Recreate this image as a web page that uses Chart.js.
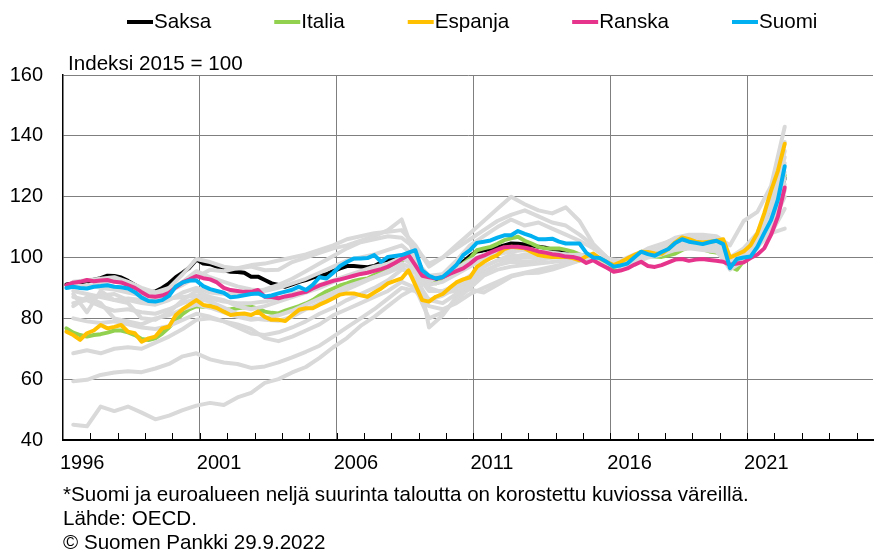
<!DOCTYPE html>
<html>
<head>
<meta charset="utf-8">
<script src="https://cdn.jsdelivr.net/npm/chart.js@4"></script>
<style>
  body { margin: 0; background: #fff; }
  canvas { display: block; }
</style>
</head>
<body>
<canvas id="chart" width="874" height="549"></canvas>
<script>
'use strict';

// quarterly data 1996Q1 - 2022Q2, index 2015 = 100
const saksa = [
  91.1, 91.5, 91.5, 92, 92.7, 93.2, 94, 93.9, 93.4, 92.3,
  91, 89.6, 88.5, 88.8, 90, 91.5, 93.5, 95, 96.7, 99.3,
  98, 97.8, 97, 95.8, 95.3, 95.2, 95, 93.7, 93.7, 92.6,
  91.5, 91, 90.4, 91.2, 92, 92.6, 93.4, 94, 94.5, 95.5,
  96.4, 97.2, 97.2, 97, 96.8, 97.2, 98.3, 99.2, 100, 100.5,
  101, 100.8, 95.8, 93.6, 92.8, 93.4, 94.5, 96.5, 98.6, 100.5,
  102, 102.3, 102.8, 103.3, 104, 104.6, 104.5, 104.3, 104, 103.5,
  103.2, 102.6, 102.2, 101.8, 101.4, 100.8, 100.4, 100.2, 99.6, 98.8,
  98, 98.2, 98.8, 100, 101.3, 101.2, 101.2, 101.5, 102.4, 103.5,
  104.5, 104.5, 104.3, 104, 103.8, 103.5, 103.2, 98.8, 99.5, 101,
  104, 107, 111, 116, 120.5, 126
];
const italia = [
  76.7, 75.3, 74.5, 74, 74.5, 74.8, 75.3, 76, 76, 75.4,
  74.5, 73.2, 72.9, 73.4, 75, 77, 79.3, 81.5, 83, 84,
  83.8, 84.2, 84, 82.8, 83, 83.3, 83.6, 83.8, 83.2, 82.2,
  81.8, 81.6, 82.5, 83.3, 84, 84.9, 86, 87.5, 88.8, 89.8,
  90.8, 91.5, 92.3, 92.8, 93.1, 94.2, 95.3, 96.3, 97.5, 98.8,
  100.2, 96, 93, 92.5, 91.5, 92.5, 94.5, 95.8, 98, 99.7,
  102.4, 103, 103.5, 104.5, 105.7, 106.3, 106.8, 105.5, 104.6, 103.5,
  103, 103, 103, 102.5, 101.9, 101, 100.2, 99.7, 99.1, 97.8,
  96.4, 96.8, 97.5, 99, 100.8, 100.5, 100.3, 100.2, 100.7, 101.3,
  102.5, 103.3, 103, 102.7, 102, 101.6, 101.1, 97, 96, 98.9,
  101, 104, 108.5, 114, 120, 127
];
const espanja = [
  75.6, 74.5, 72.9, 75.1, 76, 77.8, 76.7, 77.2, 77.8, 75.6,
  75.1, 72.3, 73.4, 74, 76.7, 77.3, 81.1, 83, 84.5, 86,
  84.4, 84, 83.4, 82.2, 81.1, 81.4, 81.6, 81.1, 82.2, 80.5,
  79.5, 79.5, 79.1, 81, 82.8, 83.3, 83.3, 84.5, 85.5, 86.6,
  87.8, 88.2, 88.2, 87.6, 87.1, 88.5, 89.8, 91.5, 92.3, 93.1,
  95.8, 91, 86, 85.5, 87.1, 88, 90, 91.8, 92.8, 93.5,
  96.9, 98.5, 99.8, 100.8, 102.8, 103.5, 103.3, 103, 101.8, 100.8,
  100.4, 100.2, 100.2, 100.2, 99.8, 99.1, 100.4, 101.3, 99.7, 98.5,
  97.5, 98.5, 99.7, 100.8, 101.9, 101.8, 101.3, 101.2, 102.8, 105,
  106.6, 106, 105.2, 104.9, 105.2, 105.5, 106, 100, 101, 102,
  104, 108, 114.5, 122, 128.5, 137.4
];
const ranska = [
  90.9, 91.7, 92, 92.6, 92.2, 92.4, 92.6, 92, 91.8, 90.9,
  90, 88.6, 87.3, 87.1, 87.5, 88.4, 90.2, 91.8, 92.8, 93.9,
  93.2, 92.8, 91.8, 90, 89.3, 89, 88.7, 88.7, 89.3, 87.1,
  87, 86.6, 87.2, 87.6, 88.2, 88.7, 89.8, 90.8, 91.6, 92.3,
  92.8, 93.4, 94, 94.6, 95, 95.6, 96.2, 97, 98.2, 99.5,
  100.8, 97.5, 94, 93.5, 93.1, 93.5, 94.6, 95.5, 96.4, 98,
  99.8, 100.6, 101.7, 102.6, 103.4, 103.5, 103.5, 103.2, 102.7, 102,
  101.6, 101.1, 100.8, 100.3, 100.2, 99.6, 98.2, 99.1, 97.8, 96.6,
  95.3, 95.7, 96.4, 97.6, 98.6, 97.2, 96.9, 97.5, 98.4, 99.3,
  99.5, 98.9, 99.3, 99.5, 99.2, 98.9, 98.6, 97.6, 98, 98.4,
  99.8, 101, 103, 107.5, 113.5, 123
];
const suomi = [
  90, 90.4, 90, 89.8, 90.4, 90.6, 90.9, 90.4, 90.2, 89.8,
  88.6, 86.8, 85.7, 85.5, 86, 87.4, 90.5, 91.8, 92.4, 92.4,
  90.6, 89.6, 89, 88.4, 86.9, 87.2, 87.6, 88, 88.2, 87.2,
  87.5, 88.2, 88.8, 89.4, 90.4, 89.3, 91, 93.5, 93.1, 95,
  97.2, 98.5, 99.7, 99.7, 99.8, 100.8, 98.6, 100.2, 100.5, 100.8,
  101.6, 102.4, 95.8, 94, 93.1, 93.6, 95.5, 97.5, 100.8, 102.4,
  104.8, 105.2, 105.6, 106.5, 107.3, 107.3, 108.7, 107.8, 107, 106,
  106, 106.2, 105.2, 104.6, 104.6, 104.6, 101.5, 100, 99.8, 98.5,
  97, 97.4, 98, 100, 101.9, 101.1, 100.6, 101.8, 102.8, 104.8,
  106, 105.2, 104.8, 104.4, 105, 105.5, 104.4, 96.5, 99.5, 100,
  100.3, 103.5, 108, 112.3, 119, 130
];

// other euro area countries, half-yearly (Q2 and Q4 of each year)
const others = [
  [45, 44.5, 51, 49.5, 51, 49, 46.8, 48, 49.8, 51.3,
   52.2, 51.5, 54, 55.5, 58.8, 60, 62.2, 64, 67, 70.5,
   73.5, 77.5, 80.5, 84, 87.5, 90, 86, 85, 88, 93,
   97, 99, 101, 100, 100, 100, 100, 99, 100, 98,
   97, 99, 101, 102, 104, 105, 106, 106, 100, 103,
   108, 118, 135],
  [59.3, 59.8, 61.4, 62.2, 62.6, 62.3, 63.5, 65, 67.5, 68.5,
   66.5, 65.5, 65, 63.7, 64.2, 65.5, 67.2, 69, 71, 74,
   77, 80, 83, 86.5, 90, 89, 84, 83, 85, 88,
   90, 92, 94, 95, 96, 97, 98, 99, 100, 99.5,
   99, 101, 102, 103, 104, 104.5, 105, 105, 99, 102,
   105, 108, 109.5],
  [68.5, 69.5, 68.5, 70, 70.5, 70, 72, 74, 76.5, 79.5,
   80, 79, 78, 76.5, 73.5, 72.5, 74, 76, 78, 81,
   83, 85, 87, 89, 92, 90, 80, 82, 86, 90,
   94, 96, 97, 97.5, 98, 98.5, 99, 99.5, 100, 98,
   96.5, 98, 100, 101, 102.5, 103, 103.5, 103, 97, 99,
   103, 112, 124],
  [80, 79, 78.5, 79, 78, 77, 76.5, 77.5, 79.5, 81.5,
   80.5, 79, 77, 75, 74.5, 75.4, 77, 79, 81.5, 83.5,
   86, 88, 90, 92.5, 96, 95, 89, 89, 91, 94,
   97, 99, 100, 101, 101, 101, 100.5, 100, 100, 98.5,
   97.5, 99.5, 101.5, 102.5, 104, 104, 104.5, 104.5, 98, 101,
   106, 118, 133],
  [85, 86, 84, 82.5, 83, 82, 81.5, 83, 85, 86.5,
   85.5, 83.5, 81.5, 80, 79.5, 79.2, 80.5, 83, 85, 87.5,
   89.5, 91.5, 93.5, 95.5, 98, 96, 91, 92, 94.5, 97,
   100, 101, 102, 102.5, 102, 101.5, 101, 100.5, 100, 99,
   98, 100, 102, 102.5, 104, 104, 103.5, 103, 96, 99,
   104, 112, 126],
  [88, 82, 89, 86, 85, 80, 79.5, 82, 86, 89,
   87, 86, 84, 83, 84, 85.5, 87, 88.5, 90, 92,
   93.5, 95, 96, 97.5, 99.5, 99, 94, 94.5, 96.5, 99,
   101, 102, 102.5, 102.5, 102, 101.5, 101, 100.5, 100, 98.5,
   97.5, 99.5, 101.5, 102, 103.5, 104, 104, 104, 98, 101,
   105, 114, 128],
  [92, 92.5, 93, 93.5, 92, 90, 88.5, 90, 94.5, 99.5,
   98.5, 97, 96.4, 97, 95.8, 96, 98.5, 100, 101.5, 103,
   104, 105.5, 107, 109, 112.5, 100, 77, 81, 87, 91.5,
   95, 97.5, 99.5, 100, 100.5, 101, 100.5, 100, 100, 99,
   98, 100, 101.5, 102, 103, 103, 102.5, 102, 97, 100,
   104, 111, 122],
  [90, 91, 90, 89.5, 88.5, 87.5, 87, 89, 91, 93.5,
   96, 95.5, 96.5, 97.5, 98, 99, 100, 101, 102.5, 104,
   106, 107, 108, 108.5, 109, 104, 97, 100, 104, 108,
   112, 116, 120, 117.5, 115.5, 114.5, 116.5, 112, 104.5, 100,
   97, 100, 102.5, 104, 106.5, 107.5, 107.5, 107, 104, 112,
   115, 123.5, 143],
  [87, 86, 87.5, 88, 86, 85, 84.5, 86, 88.5, 90,
   88.5, 88, 88, 88.5, 89.5, 91, 93, 95.5, 98, 100.5,
   103, 105, 106, 107, 106.5, 103, 98, 100, 103, 106,
   109, 112, 114, 115.5, 113.5, 111.5, 110.5, 107.5, 104, 100,
   98, 100.5, 103, 104.5, 106, 106, 106, 105.5, 99, 102,
   108, 119, 138],
  [91, 90.5, 91.5, 92.5, 91, 89, 88, 89.5, 92, 95.5,
   93.5, 92, 90.5, 89.5, 89, 90, 91.5, 93, 95, 97,
   99, 100, 101, 102.5, 104, 100, 92, 94.5, 99, 104,
   107, 110, 112.5, 110.5, 111.5, 109.5, 107.5, 105.5, 103, 100,
   96.5, 99, 101.5, 103, 105.5, 106.5, 107, 106.5, 97, 101,
   107, 117, 131],
  [89, 88, 87, 86, 86.5, 86, 86, 86.5, 87, 87.5,
   86.5, 85.5, 85, 85, 85.5, 86.5, 88, 89.5, 91, 92.5,
   94, 95.5, 97, 98, 100, 97, 90, 88.5, 89, 89.5,
   88.5, 91, 93.7, 94.8, 95, 96, 97.5, 99, 100, 99,
   98.5, 100, 101, 102, 103.5, 104, 103.5, 103, 97.5, 100,
   104, 110, 120],
  [84, 87, 85, 80, 79, 78, 80, 81, 83, 84.5,
   83.5, 82, 80.5, 79.5, 80, 81, 82.5, 84.5, 86.5, 88.5,
   90.5, 92, 93.5, 95, 97, 93, 86, 87.5, 90, 93,
   95.5, 97.5, 98.6, 98.5, 99, 100, 100.5, 101, 100, 99.5,
   98, 99.5, 101, 101.5, 103, 104, 104.5, 104, 97, 100.5,
   103.5, 108, 116]
];

const yTicks = [40, 60, 80, 100, 120, 140, 160];
const footnotes = [
  '*Suomi ja euroalueen neljä suurinta taloutta on korostettu kuviossa väreillä.',
  'Lähde: OECD.',
  '© Suomen Pankki 29.9.2022'
];

const FONT = '"Liberation Sans", Arial, sans-serif';
Chart.defaults.font.family = FONT;
Chart.defaults.font.size = 20;
Chart.defaults.color = '#000';

// quarter index -> position on the year axis
function quarterX(i) {
  return 1996 + (i + 0.5) / 4;
}

function toPoints(values, step, first) {
  return values.map((v, k) => ({ x: quarterX(first + k * step), y: v }));
}

const highlighted = [
  { label: 'Saksa', data: saksa, color: '#000000', order: 5 },
  { label: 'Italia', data: italia, color: '#92d050', order: 4 },
  { label: 'Espanja', data: espanja, color: '#ffc000', order: 2 },
  { label: 'Ranska', data: ranska, color: '#e6348c', order: 1 },
  { label: 'Suomi', data: suomi, color: '#00b0f0', order: 0 }
];

let datasets = [];
highlighted.forEach(s => {
  datasets.push({
    label: s.label,
    data: toPoints(s.data, 1, 0),
    borderColor: s.color,
    borderWidth: 4,
    order: s.order,
    legend: true
  });
});
others.forEach((vals, n) => {
  datasets.push({
    label: 'muu' + n,
    data: toPoints(vals, 2, 1),
    borderColor: '#d9d9d9',
    borderWidth: 4,
    order: 3,
    legend: false
  });
});

const texts = {
  id: 'texts',
  afterDraw(chart) {
    const ctx = chart.ctx;
    const x = chart.scales.x;
    const area = chart.chartArea;
    ctx.save();

    // small year ticks along the bottom axis
    ctx.strokeStyle = '#000';
    ctx.lineWidth = 1;
    for (let yr = 1997; yr <= 2025; yr++) {
      const px = Math.round(x.getPixelForValue(yr)) + 0.5;
      ctx.beginPath();
      ctx.moveTo(px, area.bottom);
      ctx.lineTo(px, area.bottom - 7);
      ctx.stroke();
    }

    ctx.font = '20.6px ' + FONT;
    ctx.fillStyle = '#000';
    ctx.textBaseline = 'middle';
    ctx.textAlign = 'left';

    // legend
    let lx = 127;
    chart.data.datasets.filter(d => d.legend).forEach(d => {
      ctx.strokeStyle = d.borderColor;
      ctx.lineWidth = 4;
      ctx.beginPath();
      ctx.moveTo(lx, 22);
      ctx.lineTo(lx + 26, 22);
      ctx.stroke();
      ctx.fillText(d.label, lx + 27, 22);
      lx += 27 + ctx.measureText(d.label).width + 63;
    });

    ctx.fillText('Indeksi 2015 = 100', 68, 64);

    footnotes.forEach((t, k) => {
      ctx.fillText(t, 63, 495 + k * 24);
    });
    ctx.restore();
  }
};

new Chart(document.getElementById('chart'), {
  type: 'line',
  data: { datasets: datasets },
  options: {
    responsive: false,
    animation: false,
    events: [],
    layout: { padding: { top: 75, right: 1, bottom: 69, left: 0 } },
    elements: {
      point: { radius: 0 },
      line: { tension: 0, borderJoinStyle: 'round', borderCapStyle: 'round' }
    },
    plugins: {
      legend: { display: false },
      tooltip: { enabled: false }
    },
    scales: {
      x: {
        type: 'linear',
        min: 1996,
        max: 2025.6,
        afterFit(scale) {
          scale.height = 40;
          scale.paddingLeft = 0;
          scale.paddingRight = 0;
        },
        border: { color: '#000', width: 2 },
        grid: {
          drawTicks: false,
          lineWidth: 1,
          color: c => {
            const v = c.tick.value;
            return (Number.isInteger(v) && v > 1996 && (v - 1996) % 5 === 0) ? '#7f7f7f' : 'rgba(0,0,0,0)';
          }
        },
        ticks: {
          stepSize: 1,
          autoSkip: false,
          maxRotation: 0,
          align: 'start',
          labelOffset: -3,
          padding: 11,
          callback: v => (Number.isInteger(v) && (v - 1996) % 5 === 0) ? String(v) : ''
        }
      },
      y: {
        min: 40,
        max: 160,
        afterFit(scale) { scale.width = 63; },
        afterBuildTicks(scale) { scale.ticks = yTicks.map(v => ({ value: v })); },
        border: { color: '#000', width: 1.5 },
        grid: { drawTicks: false, color: '#7f7f7f', lineWidth: 1 },
        ticks: { padding: 20 }
      }
    }
  },
  plugins: [texts]
});
</script>
</body>
</html>
